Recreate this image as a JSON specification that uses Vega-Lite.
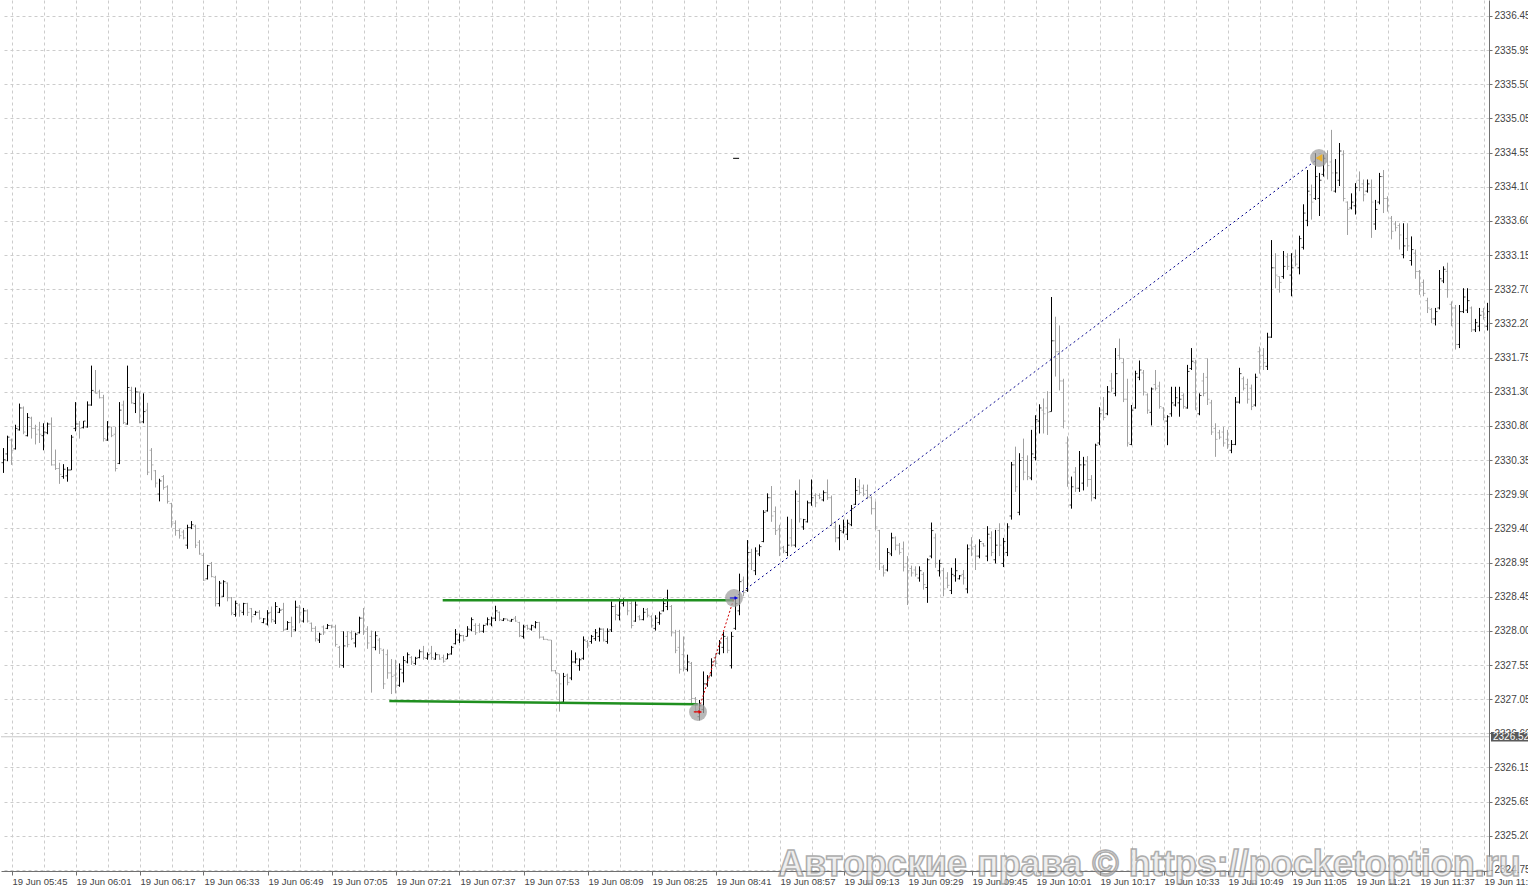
{
"$schema":"https://vega.github.io/schema/vega-lite/v6.json",
"width":1488,"height":871,"padding":0,"autosize":{"type":"pad"},"background":"white",
"config":{"view":{"stroke":null},"font":"Liberation Sans",
 "axis":{"labelOverlap":false,"labelFlush":false,"labelSeparation":0,"labelFont":"Liberation Sans","labelColor":"#444444","domainColor":"#707070","tickColor":"#707070","gridColor":"#cccccc","gridDash":[3,3],"title":null,"tickCount":200}},
"datasets":{
"bars":[
{"m":343,"o":2330.33,"h":2330.53,"l":2330.19,"c":2330.37},
{"m":344,"o":2330.45,"h":2330.70,"l":2330.35,"c":2330.68},
{"m":345,"o":2330.64,"h":2330.66,"l":2330.30,"c":2330.50},
{"m":346,"o":2330.52,"h":2330.85,"l":2330.51,"c":2330.80},
{"m":347,"o":2330.78,"h":2331.14,"l":2330.77,"c":2331.08},
{"m":348,"o":2331.08,"h":2331.10,"l":2330.72,"c":2330.75},
{"m":349,"o":2330.70,"h":2331.01,"l":2330.69,"c":2330.95},
{"m":350,"o":2330.94,"h":2330.96,"l":2330.66,"c":2330.80},
{"m":351,"o":2330.80,"h":2330.85,"l":2330.58,"c":2330.72},
{"m":352,"o":2330.78,"h":2330.89,"l":2330.60,"c":2330.72},
{"m":353,"o":2330.70,"h":2330.87,"l":2330.50,"c":2330.75},
{"m":354,"o":2330.74,"h":2330.88,"l":2330.72,"c":2330.86},
{"m":355,"o":2330.86,"h":2330.95,"l":2330.29,"c":2330.30},
{"m":356,"o":2330.30,"h":2330.51,"l":2330.23,"c":2330.25},
{"m":357,"o":2330.25,"h":2330.33,"l":2330.04,"c":2330.17},
{"m":358,"o":2330.14,"h":2330.31,"l":2330.11,"c":2330.24},
{"m":359,"o":2330.15,"h":2330.27,"l":2330.07,"c":2330.23},
{"m":360,"o":2330.23,"h":2330.71,"l":2330.23,"c":2330.68},
{"m":361,"o":2330.80,"h":2331.16,"l":2330.76,"c":2330.86},
{"m":362,"o":2330.86,"h":2330.90,"l":2330.66,"c":2330.80},
{"m":363,"o":2330.81,"h":2330.90,"l":2330.80,"c":2330.90},
{"m":364,"o":2330.82,"h":2331.17,"l":2330.81,"c":2331.12},
{"m":365,"o":2331.12,"h":2331.66,"l":2331.11,"c":2331.32},
{"m":366,"o":2331.30,"h":2331.60,"l":2331.28,"c":2331.28},
{"m":367,"o":2331.30,"h":2331.33,"l":2331.21,"c":2331.22},
{"m":368,"o":2331.22,"h":2331.26,"l":2330.62,"c":2330.66},
{"m":369,"o":2330.64,"h":2330.90,"l":2330.63,"c":2330.82},
{"m":370,"o":2330.82,"h":2330.82,"l":2330.68,"c":2330.70},
{"m":371,"o":2330.72,"h":2330.82,"l":2330.21,"c":2330.25},
{"m":372,"o":2330.32,"h":2331.16,"l":2330.31,"c":2331.05},
{"m":373,"o":2331.12,"h":2331.18,"l":2330.86,"c":2330.88},
{"m":374,"o":2330.86,"h":2331.66,"l":2330.85,"c":2331.36},
{"m":375,"o":2331.32,"h":2331.37,"l":2331.14,"c":2331.15},
{"m":376,"o":2331.14,"h":2331.36,"l":2331.01,"c":2331.30},
{"m":377,"o":2331.30,"h":2331.30,"l":2330.87,"c":2330.88},
{"m":378,"o":2330.89,"h":2331.28,"l":2330.87,"c":2331.03},
{"m":379,"o":2331.05,"h":2331.15,"l":2330.16,"c":2330.20},
{"m":380,"o":2330.50,"h":2330.53,"l":2330.09,"c":2330.30},
{"m":381,"o":2330.22,"h":2330.23,"l":2329.99,"c":2330.05},
{"m":382,"o":2329.90,"h":2330.11,"l":2329.80,"c":2330.08},
{"m":383,"o":2330.14,"h":2330.16,"l":2329.96,"c":2329.99},
{"m":384,"o":2330.00,"h":2330.02,"l":2329.77,"c":2329.80},
{"m":385,"o":2329.77,"h":2329.78,"l":2329.44,"c":2329.52},
{"m":386,"o":2329.50,"h":2329.54,"l":2329.33,"c":2329.40},
{"m":387,"o":2329.40,"h":2329.42,"l":2329.29,"c":2329.33},
{"m":388,"o":2329.38,"h":2329.41,"l":2329.28,"c":2329.30},
{"m":389,"o":2329.20,"h":2329.48,"l":2329.15,"c":2329.44},
{"m":390,"o":2329.44,"h":2329.53,"l":2329.42,"c":2329.48},
{"m":391,"o":2329.46,"h":2329.48,"l":2329.16,"c":2329.20},
{"m":392,"o":2329.24,"h":2329.27,"l":2329.07,"c":2329.08},
{"m":393,"o":2329.06,"h":2329.09,"l":2328.71,"c":2328.72},
{"m":394,"o":2328.74,"h":2328.93,"l":2328.73,"c":2328.92},
{"m":395,"o":2328.95,"h":2328.97,"l":2328.76,"c":2328.77},
{"m":396,"o":2328.76,"h":2328.78,"l":2328.36,"c":2328.40},
{"m":397,"o":2328.40,"h":2328.71,"l":2328.36,"c":2328.68},
{"m":398,"o":2328.50,"h":2328.72,"l":2328.49,"c":2328.70},
{"m":399,"o":2328.68,"h":2328.69,"l":2328.43,"c":2328.48},
{"m":400,"o":2328.48,"h":2328.49,"l":2328.24,"c":2328.27},
{"m":401,"o":2328.25,"h":2328.44,"l":2328.22,"c":2328.40},
{"m":402,"o":2328.38,"h":2328.40,"l":2328.22,"c":2328.30},
{"m":403,"o":2328.28,"h":2328.41,"l":2328.24,"c":2328.40},
{"m":404,"o":2328.40,"h":2328.41,"l":2328.23,"c":2328.28},
{"m":405,"o":2328.33,"h":2328.34,"l":2328.14,"c":2328.22},
{"m":406,"o":2328.25,"h":2328.30,"l":2328.24,"c":2328.28},
{"m":407,"o":2328.28,"h":2328.31,"l":2328.18,"c":2328.20},
{"m":408,"o":2328.14,"h":2328.20,"l":2328.13,"c":2328.19},
{"m":409,"o":2328.12,"h":2328.31,"l":2328.10,"c":2328.27},
{"m":410,"o":2328.28,"h":2328.36,"l":2328.14,"c":2328.18},
{"m":411,"o":2328.16,"h":2328.42,"l":2328.12,"c":2328.36},
{"m":412,"o":2328.28,"h":2328.34,"l":2328.27,"c":2328.31},
{"m":413,"o":2328.32,"h":2328.41,"l":2328.02,"c":2328.04},
{"m":414,"o":2328.05,"h":2328.16,"l":2328.04,"c":2328.14},
{"m":415,"o":2328.14,"h":2328.22,"l":2327.94,"c":2328.08},
{"m":416,"o":2328.04,"h":2328.44,"l":2328.02,"c":2328.35},
{"m":417,"o":2328.35,"h":2328.38,"l":2328.13,"c":2328.28},
{"m":418,"o":2328.16,"h":2328.34,"l":2328.14,"c":2328.30},
{"m":419,"o":2328.30,"h":2328.32,"l":2328.14,"c":2328.16},
{"m":420,"o":2328.13,"h":2328.14,"l":2328.02,"c":2328.06},
{"m":421,"o":2328.06,"h":2328.09,"l":2327.88,"c":2327.92},
{"m":422,"o":2327.90,"h":2328.00,"l":2327.86,"c":2327.98},
{"m":423,"o":2328.08,"h":2328.10,"l":2327.97,"c":2328.00},
{"m":424,"o":2328.06,"h":2328.12,"l":2328.05,"c":2328.10},
{"m":425,"o":2328.10,"h":2328.11,"l":2328.06,"c":2328.08},
{"m":426,"o":2328.08,"h":2328.11,"l":2327.81,"c":2327.84},
{"m":427,"o":2327.80,"h":2327.82,"l":2327.52,"c":2327.56},
{"m":428,"o":2327.55,"h":2328.02,"l":2327.52,"c":2327.82},
{"m":429,"o":2327.95,"h":2328.02,"l":2327.80,"c":2327.84},
{"m":430,"o":2328.00,"h":2328.03,"l":2327.90,"c":2327.92},
{"m":431,"o":2327.86,"h":2328.00,"l":2327.80,"c":2327.98},
{"m":432,"o":2328.00,"h":2328.22,"l":2327.99,"c":2328.20},
{"m":433,"o":2328.20,"h":2328.34,"l":2327.97,"c":2328.02},
{"m":434,"o":2328.05,"h":2328.09,"l":2327.78,"c":2327.86},
{"m":435,"o":2327.95,"h":2328.03,"l":2327.18,"c":2327.80},
{"m":436,"o":2327.80,"h":2328.02,"l":2327.76,"c":2327.96},
{"m":437,"o":2327.90,"h":2327.93,"l":2327.71,"c":2327.78},
{"m":438,"o":2327.76,"h":2327.78,"l":2327.23,"c":2327.30},
{"m":439,"o":2327.70,"h":2327.77,"l":2327.37,"c":2327.45},
{"m":440,"o":2327.45,"h":2327.64,"l":2327.16,"c":2327.40},
{"m":441,"o":2327.42,"h":2327.63,"l":2327.17,"c":2327.38},
{"m":442,"o":2327.28,"h":2327.58,"l":2327.26,"c":2327.50},
{"m":443,"o":2327.45,"h":2327.68,"l":2327.32,"c":2327.62},
{"m":444,"o":2327.60,"h":2327.73,"l":2327.58,"c":2327.70},
{"m":445,"o":2327.66,"h":2327.68,"l":2327.56,"c":2327.60},
{"m":446,"o":2327.58,"h":2327.67,"l":2327.56,"c":2327.65},
{"m":447,"o":2327.66,"h":2327.77,"l":2327.65,"c":2327.74},
{"m":448,"o":2327.74,"h":2327.82,"l":2327.63,"c":2327.66},
{"m":449,"o":2327.65,"h":2327.73,"l":2327.63,"c":2327.70},
{"m":450,"o":2327.72,"h":2327.82,"l":2327.63,"c":2327.66},
{"m":451,"o":2327.64,"h":2327.73,"l":2327.63,"c":2327.70},
{"m":452,"o":2327.70,"h":2327.70,"l":2327.63,"c":2327.64},
{"m":453,"o":2327.66,"h":2327.70,"l":2327.59,"c":2327.61},
{"m":454,"o":2327.64,"h":2327.72,"l":2327.64,"c":2327.70},
{"m":455,"o":2327.71,"h":2327.82,"l":2327.70,"c":2327.80},
{"m":456,"o":2327.85,"h":2328.05,"l":2327.84,"c":2327.98},
{"m":457,"o":2327.90,"h":2327.99,"l":2327.86,"c":2327.96},
{"m":458,"o":2327.96,"h":2327.97,"l":2327.88,"c":2327.90},
{"m":459,"o":2327.95,"h":2328.09,"l":2327.95,"c":2328.05},
{"m":460,"o":2328.04,"h":2328.21,"l":2328.02,"c":2328.18},
{"m":461,"o":2328.10,"h":2328.13,"l":2327.97,"c":2328.00},
{"m":462,"o":2328.10,"h":2328.13,"l":2328.00,"c":2328.02},
{"m":463,"o":2328.02,"h":2328.11,"l":2328.00,"c":2328.10},
{"m":464,"o":2328.12,"h":2328.21,"l":2328.10,"c":2328.18},
{"m":465,"o":2328.12,"h":2328.22,"l":2328.09,"c":2328.20},
{"m":466,"o":2328.20,"h":2328.37,"l":2328.16,"c":2328.30},
{"m":467,"o":2328.28,"h":2328.29,"l":2328.16,"c":2328.18},
{"m":468,"o":2328.17,"h":2328.20,"l":2328.16,"c":2328.19},
{"m":469,"o":2328.19,"h":2328.19,"l":2328.16,"c":2328.17},
{"m":470,"o":2328.16,"h":2328.19,"l":2328.15,"c":2328.18},
{"m":471,"o":2328.20,"h":2328.23,"l":2328.15,"c":2328.16},
{"m":472,"o":2328.14,"h":2328.15,"l":2327.94,"c":2327.96},
{"m":473,"o":2327.95,"h":2328.11,"l":2327.92,"c":2328.08},
{"m":474,"o":2328.10,"h":2328.11,"l":2328.04,"c":2328.06},
{"m":475,"o":2328.05,"h":2328.11,"l":2328.03,"c":2328.10},
{"m":476,"o":2328.08,"h":2328.16,"l":2328.06,"c":2328.14},
{"m":477,"o":2328.14,"h":2328.15,"l":2327.92,"c":2327.94},
{"m":478,"o":2327.94,"h":2327.95,"l":2327.90,"c":2327.91},
{"m":479,"o":2327.91,"h":2327.91,"l":2327.90,"c":2327.90},
{"m":480,"o":2327.90,"h":2327.90,"l":2327.47,"c":2327.48},
{"m":481,"o":2327.48,"h":2327.49,"l":2327.44,"c":2327.45},
{"m":482,"o":2327.44,"h":2327.44,"l":2326.92,"c":2327.30},
{"m":483,"o":2327.05,"h":2327.45,"l":2327.03,"c":2327.40},
{"m":484,"o":2327.42,"h":2327.44,"l":2327.28,"c":2327.32},
{"m":485,"o":2327.38,"h":2327.76,"l":2327.35,"c":2327.60},
{"m":486,"o":2327.60,"h":2327.73,"l":2327.58,"c":2327.64},
{"m":487,"o":2327.55,"h":2327.65,"l":2327.48,"c":2327.63},
{"m":488,"o":2327.65,"h":2327.95,"l":2327.63,"c":2327.90},
{"m":489,"o":2327.88,"h":2327.90,"l":2327.79,"c":2327.82},
{"m":490,"o":2327.88,"h":2327.97,"l":2327.85,"c":2327.95},
{"m":491,"o":2327.92,"h":2328.05,"l":2327.89,"c":2328.00},
{"m":492,"o":2327.95,"h":2328.07,"l":2327.88,"c":2328.05},
{"m":493,"o":2328.05,"h":2328.06,"l":2327.88,"c":2327.90},
{"m":494,"o":2327.88,"h":2328.06,"l":2327.85,"c":2328.02},
{"m":495,"o":2328.04,"h":2328.43,"l":2328.01,"c":2328.36},
{"m":496,"o":2328.36,"h":2328.39,"l":2328.17,"c":2328.25},
{"m":497,"o":2328.24,"h":2328.47,"l":2328.17,"c":2328.43},
{"m":498,"o":2328.40,"h":2328.47,"l":2328.36,"c":2328.45},
{"m":499,"o":2328.44,"h":2328.45,"l":2328.24,"c":2328.30},
{"m":500,"o":2328.40,"h":2328.43,"l":2328.06,"c":2328.10},
{"m":501,"o":2328.16,"h":2328.43,"l":2328.15,"c":2328.38},
{"m":502,"o":2328.22,"h":2328.24,"l":2328.17,"c":2328.18},
{"m":503,"o":2328.18,"h":2328.34,"l":2328.17,"c":2328.28},
{"m":504,"o":2328.32,"h":2328.34,"l":2328.21,"c":2328.24},
{"m":505,"o":2328.22,"h":2328.24,"l":2328.07,"c":2328.10},
{"m":506,"o":2328.06,"h":2328.24,"l":2328.03,"c":2328.20},
{"m":507,"o":2328.14,"h":2328.29,"l":2328.11,"c":2328.26},
{"m":508,"o":2328.30,"h":2328.47,"l":2328.29,"c":2328.40},
{"m":509,"o":2328.36,"h":2328.59,"l":2328.31,"c":2328.45},
{"m":510,"o":2328.36,"h":2328.38,"l":2327.95,"c":2328.00},
{"m":511,"o":2328.00,"h":2328.04,"l":2327.72,"c":2327.76},
{"m":512,"o":2327.80,"h":2328.04,"l":2327.44,"c":2327.50},
{"m":513,"o":2327.70,"h":2327.95,"l":2327.47,"c":2327.52},
{"m":514,"o":2327.50,"h":2327.70,"l":2327.47,"c":2327.60},
{"m":515,"o":2327.58,"h":2327.60,"l":2327.03,"c":2327.10},
{"m":516,"o":2327.10,"h":2327.12,"l":2326.90,"c":2326.94},
{"m":517,"o":2326.85,"h":2327.08,"l":2326.80,"c":2327.00},
{"m":518,"o":2326.95,"h":2327.47,"l":2326.90,"c":2327.30},
{"m":519,"o":2327.30,"h":2327.42,"l":2327.26,"c":2327.38},
{"m":520,"o":2327.42,"h":2327.65,"l":2327.40,"c":2327.60},
{"m":521,"o":2327.66,"h":2327.72,"l":2327.53,"c":2327.58},
{"m":522,"o":2327.72,"h":2327.90,"l":2327.70,"c":2327.86},
{"m":523,"o":2327.80,"h":2328.01,"l":2327.72,"c":2327.95},
{"m":524,"o":2327.92,"h":2327.95,"l":2327.72,"c":2327.76},
{"m":525,"o":2327.55,"h":2328.01,"l":2327.51,"c":2327.95},
{"m":526,"o":2328.06,"h":2328.49,"l":2328.04,"c":2328.40},
{"m":527,"o":2328.30,"h":2328.81,"l":2328.24,"c":2328.70},
{"m":528,"o":2328.72,"h":2328.77,"l":2328.50,"c":2328.55},
{"m":529,"o":2328.58,"h":2329.27,"l":2328.56,"c":2329.10},
{"m":530,"o":2329.10,"h":2329.15,"l":2328.86,"c":2328.95},
{"m":531,"o":2328.85,"h":2329.17,"l":2328.79,"c":2329.12},
{"m":532,"o":2329.08,"h":2329.21,"l":2329.05,"c":2329.18},
{"m":533,"o":2329.25,"h":2329.68,"l":2329.24,"c":2329.65},
{"m":534,"o":2329.67,"h":2329.91,"l":2329.66,"c":2329.85},
{"m":535,"o":2329.85,"h":2330.01,"l":2329.52,"c":2329.60},
{"m":536,"o":2329.66,"h":2329.73,"l":2329.34,"c":2329.40},
{"m":537,"o":2329.42,"h":2329.48,"l":2329.05,"c":2329.15},
{"m":538,"o":2329.17,"h":2329.19,"l":2329.09,"c":2329.12},
{"m":539,"o":2329.10,"h":2329.59,"l":2329.05,"c":2329.20},
{"m":540,"o":2329.30,"h":2329.56,"l":2329.18,"c":2329.20},
{"m":541,"o":2329.20,"h":2329.95,"l":2329.17,"c":2329.90},
{"m":542,"o":2329.80,"h":2330.10,"l":2329.51,"c":2329.56},
{"m":543,"o":2329.45,"h":2329.56,"l":2329.41,"c":2329.55},
{"m":544,"o":2329.52,"h":2329.81,"l":2329.51,"c":2329.78},
{"m":545,"o":2329.78,"h":2330.10,"l":2329.74,"c":2329.85},
{"m":546,"o":2329.88,"h":2329.91,"l":2329.72,"c":2329.78},
{"m":547,"o":2329.88,"h":2329.91,"l":2329.83,"c":2329.85},
{"m":548,"o":2329.82,"h":2329.95,"l":2329.80,"c":2329.92},
{"m":549,"o":2329.92,"h":2330.10,"l":2329.82,"c":2329.85},
{"m":550,"o":2329.85,"h":2329.88,"l":2329.46,"c":2329.50},
{"m":551,"o":2329.45,"h":2329.52,"l":2329.24,"c":2329.30},
{"m":552,"o":2329.30,"h":2329.48,"l":2329.13,"c":2329.40},
{"m":553,"o":2329.38,"h":2329.55,"l":2329.36,"c":2329.45},
{"m":554,"o":2329.35,"h":2329.55,"l":2329.27,"c":2329.50},
{"m":555,"o":2329.48,"h":2329.75,"l":2329.46,"c":2329.70},
{"m":556,"o":2329.76,"h":2330.12,"l":2329.75,"c":2329.95},
{"m":557,"o":2330.00,"h":2330.10,"l":2329.89,"c":2329.92},
{"m":558,"o":2329.98,"h":2330.03,"l":2329.87,"c":2329.90},
{"m":559,"o":2329.95,"h":2330.03,"l":2329.83,"c":2329.86},
{"m":560,"o":2329.85,"h":2329.87,"l":2329.62,"c":2329.70},
{"m":561,"o":2329.70,"h":2329.80,"l":2329.41,"c":2329.45},
{"m":562,"o":2329.40,"h":2329.41,"l":2328.86,"c":2328.95},
{"m":563,"o":2328.90,"h":2328.93,"l":2328.77,"c":2328.82},
{"m":564,"o":2328.86,"h":2329.16,"l":2328.84,"c":2329.10},
{"m":565,"o":2329.08,"h":2329.37,"l":2329.05,"c":2329.30},
{"m":566,"o":2329.30,"h":2329.32,"l":2329.13,"c":2329.20},
{"m":567,"o":2329.20,"h":2329.23,"l":2329.07,"c":2329.10},
{"m":568,"o":2329.15,"h":2329.25,"l":2328.84,"c":2328.90},
{"m":569,"o":2328.95,"h":2329.05,"l":2328.38,"c":2328.85},
{"m":570,"o":2328.88,"h":2328.92,"l":2328.77,"c":2328.82},
{"m":571,"o":2328.86,"h":2328.91,"l":2328.77,"c":2328.80},
{"m":572,"o":2328.75,"h":2328.91,"l":2328.70,"c":2328.85},
{"m":573,"o":2328.80,"h":2328.83,"l":2328.59,"c":2328.66},
{"m":574,"o":2328.62,"h":2329.02,"l":2328.41,"c":2329.00},
{"m":575,"o":2329.05,"h":2329.51,"l":2329.02,"c":2329.40},
{"m":576,"o":2329.30,"h":2329.36,"l":2328.89,"c":2328.95},
{"m":577,"o":2328.85,"h":2329.00,"l":2328.77,"c":2328.95},
{"m":578,"o":2328.85,"h":2328.89,"l":2328.50,"c":2328.60},
{"m":579,"o":2328.75,"h":2328.83,"l":2328.61,"c":2328.65},
{"m":580,"o":2328.58,"h":2328.89,"l":2328.53,"c":2328.80},
{"m":581,"o":2328.78,"h":2329.02,"l":2328.70,"c":2328.85},
{"m":582,"o":2328.74,"h":2328.79,"l":2328.73,"c":2328.78},
{"m":583,"o":2328.80,"h":2328.86,"l":2328.66,"c":2328.75},
{"m":584,"o":2328.60,"h":2329.21,"l":2328.54,"c":2329.15},
{"m":585,"o":2329.20,"h":2329.31,"l":2329.05,"c":2329.15},
{"m":586,"o":2329.18,"h":2329.21,"l":2328.86,"c":2329.05},
{"m":587,"o":2329.05,"h":2329.28,"l":2329.02,"c":2329.25},
{"m":588,"o":2329.22,"h":2329.23,"l":2329.18,"c":2329.19},
{"m":589,"o":2329.05,"h":2329.46,"l":2328.98,"c":2329.35},
{"m":590,"o":2329.30,"h":2329.39,"l":2329.05,"c":2329.10},
{"m":591,"o":2329.00,"h":2329.41,"l":2328.95,"c":2329.20},
{"m":592,"o":2329.40,"h":2329.50,"l":2329.05,"c":2329.20},
{"m":593,"o":2328.95,"h":2329.30,"l":2328.90,"c":2329.25},
{"m":594,"o":2329.10,"h":2329.50,"l":2329.05,"c":2329.45},
{"m":595,"o":2329.60,"h":2330.34,"l":2329.55,"c":2330.30},
{"m":596,"o":2330.30,"h":2330.55,"l":2329.93,"c":2330.00},
{"m":597,"o":2329.65,"h":2330.46,"l":2329.61,"c":2330.36},
{"m":598,"o":2330.40,"h":2330.66,"l":2330.09,"c":2330.20},
{"m":599,"o":2330.36,"h":2330.43,"l":2330.09,"c":2330.14},
{"m":600,"o":2330.12,"h":2330.78,"l":2330.09,"c":2330.45},
{"m":601,"o":2330.40,"h":2330.98,"l":2330.36,"c":2330.92},
{"m":602,"o":2330.90,"h":2331.13,"l":2330.73,"c":2331.08},
{"m":603,"o":2331.05,"h":2331.21,"l":2330.73,"c":2331.00},
{"m":604,"o":2331.08,"h":2331.31,"l":2330.71,"c":2331.02},
{"m":605,"o":2331.03,"h":2332.60,"l":2331.03,"c":2332.00},
{"m":606,"o":2332.00,"h":2332.33,"l":2331.51,"c":2331.85},
{"m":607,"o":2331.85,"h":2332.21,"l":2331.32,"c":2331.45},
{"m":608,"o":2331.45,"h":2331.48,"l":2330.80,"c":2330.90},
{"m":609,"o":2330.60,"h":2330.69,"l":2330.00,"c":2330.05},
{"m":610,"o":2329.75,"h":2330.14,"l":2329.70,"c":2330.00},
{"m":611,"o":2330.20,"h":2330.27,"l":2329.93,"c":2329.98},
{"m":612,"o":2329.98,"h":2330.49,"l":2329.93,"c":2330.30},
{"m":613,"o":2330.05,"h":2330.41,"l":2329.95,"c":2330.30},
{"m":614,"o":2330.35,"h":2330.42,"l":2330.00,"c":2330.10},
{"m":615,"o":2330.10,"h":2330.16,"l":2329.80,"c":2329.90},
{"m":616,"o":2329.85,"h":2330.59,"l":2329.83,"c":2330.57},
{"m":617,"o":2330.60,"h":2331.09,"l":2330.57,"c":2331.00},
{"m":618,"o":2331.05,"h":2331.23,"l":2330.91,"c":2330.95},
{"m":619,"o":2331.00,"h":2331.38,"l":2330.98,"c":2331.30},
{"m":620,"o":2331.45,"h":2331.56,"l":2331.30,"c":2331.35},
{"m":621,"o":2331.28,"h":2331.90,"l":2331.24,"c":2331.55},
{"m":622,"o":2331.80,"h":2332.03,"l":2331.74,"c":2331.76},
{"m":623,"o":2331.70,"h":2331.76,"l":2331.16,"c":2331.20},
{"m":624,"o":2331.20,"h":2331.48,"l":2330.55,"c":2330.60},
{"m":625,"o":2330.58,"h":2331.12,"l":2330.57,"c":2331.05},
{"m":626,"o":2331.08,"h":2331.59,"l":2331.07,"c":2331.55},
{"m":627,"o":2331.50,"h":2331.73,"l":2331.46,"c":2331.60},
{"m":628,"o":2331.56,"h":2331.60,"l":2331.25,"c":2331.30},
{"m":629,"o":2331.26,"h":2331.28,"l":2331.00,"c":2331.05},
{"m":630,"o":2331.02,"h":2331.36,"l":2330.84,"c":2331.34},
{"m":631,"o":2331.40,"h":2331.60,"l":2331.32,"c":2331.35},
{"m":632,"o":2331.38,"h":2331.44,"l":2331.07,"c":2331.10},
{"m":633,"o":2331.08,"h":2331.09,"l":2330.91,"c":2330.95},
{"m":634,"o":2330.90,"h":2330.98,"l":2330.57,"c":2330.96},
{"m":635,"o":2331.00,"h":2331.37,"l":2330.96,"c":2331.15},
{"m":636,"o":2331.12,"h":2331.37,"l":2331.10,"c":2331.22},
{"m":637,"o":2331.15,"h":2331.37,"l":2330.96,"c":2331.20},
{"m":638,"o":2331.25,"h":2331.28,"l":2331.07,"c":2331.10},
{"m":639,"o":2331.08,"h":2331.67,"l":2331.07,"c":2331.58},
{"m":640,"o":2331.62,"h":2331.90,"l":2331.60,"c":2331.72},
{"m":641,"o":2331.70,"h":2331.74,"l":2331.05,"c":2331.08},
{"m":642,"o":2331.00,"h":2331.28,"l":2330.98,"c":2331.25},
{"m":643,"o":2331.45,"h":2331.56,"l":2331.24,"c":2331.28},
{"m":644,"o":2331.50,"h":2331.76,"l":2331.12,"c":2331.20},
{"m":645,"o":2331.15,"h":2331.19,"l":2330.71,"c":2330.75},
{"m":646,"o":2330.80,"h":2330.87,"l":2330.41,"c":2330.65},
{"m":647,"o":2330.74,"h":2330.78,"l":2330.65,"c":2330.68},
{"m":648,"o":2330.75,"h":2330.82,"l":2330.55,"c":2330.60},
{"m":649,"o":2330.65,"h":2330.78,"l":2330.52,"c":2330.58},
{"m":650,"o":2330.50,"h":2330.64,"l":2330.46,"c":2330.58},
{"m":651,"o":2330.58,"h":2331.23,"l":2330.57,"c":2331.16},
{"m":652,"o":2331.16,"h":2331.63,"l":2331.14,"c":2331.55},
{"m":653,"o":2331.48,"h":2331.51,"l":2331.32,"c":2331.35},
{"m":654,"o":2331.40,"h":2331.48,"l":2331.14,"c":2331.20},
{"m":655,"o":2331.35,"h":2331.40,"l":2331.05,"c":2331.10},
{"m":656,"o":2331.12,"h":2331.55,"l":2331.10,"c":2331.50},
{"m":657,"o":2331.85,"h":2331.92,"l":2331.55,"c":2331.65},
{"m":658,"o":2331.80,"h":2331.90,"l":2331.60,"c":2331.70},
{"m":659,"o":2331.65,"h":2332.11,"l":2331.60,"c":2332.05},
{"m":660,"o":2332.05,"h":2333.38,"l":2332.04,"c":2333.00},
{"m":661,"o":2333.00,"h":2333.20,"l":2332.72,"c":2332.90},
{"m":662,"o":2332.88,"h":2332.88,"l":2332.66,"c":2332.80},
{"m":663,"o":2332.88,"h":2333.23,"l":2332.85,"c":2333.02},
{"m":664,"o":2333.15,"h":2333.20,"l":2332.97,"c":2333.02},
{"m":665,"o":2332.90,"h":2333.20,"l":2332.61,"c":2333.00},
{"m":666,"o":2333.15,"h":2333.25,"l":2333.02,"c":2333.05},
{"m":667,"o":2333.00,"h":2333.44,"l":2332.91,"c":2333.40},
{"m":668,"o":2333.28,"h":2333.87,"l":2333.25,"c":2333.75},
{"m":669,"o":2333.65,"h":2334.34,"l":2333.57,"c":2334.05},
{"m":670,"o":2334.00,"h":2334.14,"l":2333.66,"c":2333.90},
{"m":671,"o":2333.95,"h":2334.57,"l":2333.93,"c":2334.25},
{"m":672,"o":2333.95,"h":2334.30,"l":2333.71,"c":2334.20},
{"m":673,"o":2334.28,"h":2334.55,"l":2334.25,"c":2334.50},
{"m":674,"o":2334.45,"h":2334.61,"l":2334.21,"c":2334.40},
{"m":675,"o":2334.45,"h":2334.89,"l":2334.05,"c":2334.30},
{"m":676,"o":2334.05,"h":2334.49,"l":2334.03,"c":2334.30},
{"m":677,"o":2334.20,"h":2334.71,"l":2334.12,"c":2334.60},
{"m":678,"o":2334.55,"h":2334.61,"l":2333.91,"c":2333.95},
{"m":679,"o":2333.90,"h":2333.91,"l":2333.45,"c":2333.80},
{"m":680,"o":2333.82,"h":2334.02,"l":2333.80,"c":2333.90},
{"m":681,"o":2333.85,"h":2334.16,"l":2333.73,"c":2334.10},
{"m":682,"o":2334.20,"h":2334.32,"l":2334.05,"c":2334.10},
{"m":683,"o":2334.15,"h":2334.21,"l":2333.91,"c":2334.00},
{"m":684,"o":2334.05,"h":2334.21,"l":2334.03,"c":2334.15},
{"m":685,"o":2334.10,"h":2334.21,"l":2333.41,"c":2333.90},
{"m":686,"o":2333.60,"h":2333.93,"l":2333.52,"c":2333.80},
{"m":687,"o":2333.90,"h":2334.30,"l":2333.87,"c":2334.25},
{"m":688,"o":2334.25,"h":2334.34,"l":2333.75,"c":2333.95},
{"m":689,"o":2333.95,"h":2333.98,"l":2333.77,"c":2333.85},
{"m":690,"o":2333.68,"h":2333.71,"l":2333.39,"c":2333.50},
{"m":691,"o":2333.60,"h":2333.64,"l":2333.50,"c":2333.55},
{"m":692,"o":2333.58,"h":2333.61,"l":2333.25,"c":2333.45},
{"m":693,"o":2333.18,"h":2333.61,"l":2333.13,"c":2333.30},
{"m":694,"o":2333.40,"h":2333.61,"l":2333.23,"c":2333.30},
{"m":695,"o":2333.10,"h":2333.43,"l":2333.03,"c":2333.25},
{"m":696,"o":2333.20,"h":2333.25,"l":2332.85,"c":2332.95},
{"m":697,"o":2332.95,"h":2332.97,"l":2332.63,"c":2332.75},
{"m":698,"o":2332.80,"h":2332.84,"l":2332.61,"c":2332.65},
{"m":699,"o":2332.55,"h":2332.59,"l":2332.38,"c":2332.45},
{"m":700,"o":2332.43,"h":2332.45,"l":2332.24,"c":2332.30},
{"m":701,"o":2332.30,"h":2332.45,"l":2332.21,"c":2332.40},
{"m":702,"o":2332.45,"h":2332.97,"l":2332.43,"c":2332.85},
{"m":703,"o":2332.82,"h":2333.02,"l":2332.79,"c":2332.98},
{"m":704,"o":2332.95,"h":2333.07,"l":2332.59,"c":2332.70},
{"m":705,"o":2332.50,"h":2332.54,"l":2332.20,"c":2332.45},
{"m":706,"o":2332.45,"h":2332.49,"l":2331.88,"c":2331.95},
{"m":707,"o":2331.95,"h":2332.49,"l":2331.90,"c":2332.40},
{"m":708,"o":2332.40,"h":2332.72,"l":2332.38,"c":2332.60},
{"m":709,"o":2332.42,"h":2332.72,"l":2332.38,"c":2332.55},
{"m":710,"o":2332.45,"h":2332.47,"l":2332.12,"c":2332.15},
{"m":711,"o":2332.15,"h":2332.30,"l":2332.12,"c":2332.25},
{"m":712,"o":2332.20,"h":2332.45,"l":2332.13,"c":2332.35},
{"m":713,"o":2332.40,"h":2332.45,"l":2332.29,"c":2332.32},
{"m":714,"o":2332.20,"h":2332.52,"l":2332.14,"c":2332.40}
],
"levels":[
{"level":"resistance","m":452.8,"p":2328.445},
{"level":"resistance","m":525.6,"p":2328.445},
{"level":"support","m":439.45,"p":2327.065},
{"level":"support","m":516.6,"p":2327.02}
],
"trades":[
{"leg":"entry","m":516.625,"p":2326.915},
{"leg":"entry","m":525.625,"p":2328.476},
{"leg":"exit","m":525.625,"p":2328.476},
{"leg":"exit","m":671.875,"p":2334.505}
],
"signals":[
{"event":"low","m":516.625,"p":2326.915},
{"event":"entry","m":525.625,"p":2328.476},
{"event":"exit","m":671.875,"p":2334.505}
]
},
"layer":[
{"data":{"name":"bars"},
 "mark":{"type":"rule","strokeWidth":1},
 "encoding":{
  "x":{"field":"m","type":"quantitative","title":null,"scale":{"domain":[342.375,714.375],"nice":false,"zero":false},
   "axis":{"orient":"bottom","title":null,"tickCount":200,
    "values":[345,353,361,369,377,385,393,401,409,417,425,433,441,449,457,465,473,481,489,497,505,513,521,529,537,545,553,561,569,577,585,593,601,609,617,625,633,641,649,657,665,673,681,689,697,705,713],
    "grid":true,"gridColor":"#cccccc","gridDash":[3,3],"gridWidth":1,
    "domainColor":"#707070","tickColor":"#707070","tickSize":4,
    "tickOpacity":{"condition":{"test":"(datum.value - 345) % 16 != 0","value":0},"value":1},
    "labelExpr":"(datum.value - 345) % 16 == 0 ? '19 Jun ' + utcFormat(datum.value * 60000, '%H:%M') : ''",
    "labelAlign":"left","labelBaseline":"top","labelPadding":1,"labelOffset":0.5,
    "labelFont":"Liberation Sans","labelFontSize":9.5,"labelColor":"#444444","labelOverlap":false,"labelFlush":false}},
  "y":{"field":"l","type":"quantitative","title":null,"scale":{"domain":[2324.736,2336.669],"nice":false,"zero":false},
   "axis":{"orient":"right","title":null,"tickCount":200,
    "values":[2324.75,2325.218,2325.686,2326.154,2326.622,2327.09,2327.558,2328.026,2328.494,2328.962,2329.43,2329.898,2330.366,2330.834,2331.302,2331.77,2332.238,2332.706,2333.174,2333.642,2334.11,2334.578,2335.046,2335.514,2335.982,2336.45],
    "labelExpr":"['2324.75','2325.20','2325.65','2326.15','2326.60','2327.05','2327.55','2328.00','2328.45','2328.95','2329.40','2329.90','2330.35','2330.80','2331.30','2331.75','2332.20','2332.70','2333.15','2333.60','2334.10','2334.55','2335.05','2335.50','2335.95','2336.45'][round((datum.value - 2324.75) / 0.468)]",
    "grid":true,"gridColor":"#cccccc","gridDash":[3,3],"gridWidth":1,
    "domainColor":"#707070","tickColor":"#707070","tickSize":3,
    "labelAlign":"left","labelBaseline":"middle","labelPadding":2,
    "labelFont":"Liberation Sans","labelFontSize":10,"labelColor":"#444444","labelOverlap":false,"labelFlush":false}},
  "y2":{"field":"h"},
  "color":{"condition":{"test":"datum.c > datum.o","value":"#000000"},"value":"#a0a0a0"}}},
{"data":{"name":"bars"},
 "mark":{"type":"tick","orient":"horizontal","size":2,"thickness":1,"xOffset":-1},
 "encoding":{"x":{"field":"m","type":"quantitative","title":null},
  "y":{"field":"o","type":"quantitative","title":null},
  "color":{"condition":{"test":"datum.c > datum.o","value":"#000000"},"value":"#a0a0a0"}}},
{"data":{"name":"bars"},
 "mark":{"type":"tick","orient":"horizontal","size":2,"thickness":1,"xOffset":1},
 "encoding":{"x":{"field":"m","type":"quantitative","title":null},
  "y":{"field":"c","type":"quantitative","title":null},
  "color":{"condition":{"test":"datum.c > datum.o","value":"#000000"},"value":"#a0a0a0"}}},
{"data":{"values":[{"bid":2326.52}]},
 "mark":{"type":"rule","color":"#c8c8c8","strokeWidth":1},
 "encoding":{"y":{"datum":2326.575,"type":"quantitative","title":null}}},
{"data":{"name":"levels"},
 "mark":{"type":"line","color":"#1f8f1f","strokeWidth":2.5},
 "encoding":{"x":{"field":"m","type":"quantitative","title":null},
  "y":{"field":"p","type":"quantitative","title":null},
  "detail":{"field":"level","type":"nominal"}}},
{"data":{"name":"trades"},"transform":[{"filter":"datum.leg == 'entry'"}],
 "mark":{"type":"line","color":"#d00000","strokeWidth":1,"strokeDash":[2,2]},
 "encoding":{"x":{"field":"m","type":"quantitative","title":null},
  "y":{"field":"p","type":"quantitative","title":null}}},
{"data":{"name":"trades"},"transform":[{"filter":"datum.leg == 'exit'"}],
 "mark":{"type":"line","color":"#00008b","strokeWidth":1,"strokeDash":[2,3]},
 "encoding":{"x":{"field":"m","type":"quantitative","title":null},
  "y":{"field":"p","type":"quantitative","title":null}}},
{"data":{"name":"signals"},
 "mark":{"type":"point","shape":"circle","filled":true,"size":320,"color":"#a0a0a0","opacity":0.75},
 "encoding":{"x":{"field":"m","type":"quantitative","title":null},
  "y":{"field":"p","type":"quantitative","title":null}}},
{"data":{"name":"signals"},"transform":[{"filter":"datum.event != 'exit'"}],
 "mark":{"type":"point","shape":"arrow","filled":true,"size":70,"angle":90,"opacity":1},
 "encoding":{"x":{"field":"m","type":"quantitative","title":null},
  "y":{"field":"p","type":"quantitative","title":null},
  "color":{"condition":{"test":"datum.event == 'low'","value":"#e00000"},"value":"#0000e0"}}},
{"data":{"name":"signals"},"transform":[{"filter":"datum.event == 'exit'"}],
 "mark":{"type":"point","shape":"triangle-left","filled":true,"size":60,"color":"#e8b030","opacity":1},
 "encoding":{"x":{"field":"m","type":"quantitative","title":null},
  "y":{"field":"p","type":"quantitative","title":null}}},
{"data":{"values":[{"m":525.4,"m2":526.9,"p":2334.5}]},
 "mark":{"type":"rule","color":"#000000","strokeWidth":1},
 "encoding":{"x":{"field":"m","type":"quantitative","title":null},
  "x2":{"field":"m2"},
  "y":{"field":"p","type":"quantitative","title":null}}},
{"data":{"values":[{"note":"Авторские права © https://pocketoption.ru"}]},
 "mark":{"type":"text","align":"left","baseline":"alphabetic","font":"Liberation Sans","fontSize":36,"fontWeight":"bold","fill":"#e8e8e8","stroke":"#8c8c8c","strokeWidth":1.5,"opacity":0.7,"clip":false},
 "encoding":{"x":{"datum":536.6,"type":"quantitative","title":null},
  "y":{"datum":2324.67,"type":"quantitative","title":null},
  "text":{"field":"note","type":"nominal"}}},
{"data":{"values":[{"bid":2326.52}]},
 "mark":{"type":"rect","color":"#5a5a5a","clip":false},
 "encoding":{"x":{"datum":714.875,"type":"quantitative","title":null},
  "x2":{"datum":724.5},
  "y":{"datum":2326.64,"type":"quantitative","title":null},
  "y2":{"datum":2326.51}}},
{"data":{"values":[{"bid":2326.52}]},
 "mark":{"type":"text","color":"#ffffff","align":"left","baseline":"middle","dx":2,"font":"Liberation Sans","fontSize":10,"clip":false},
 "encoding":{"x":{"datum":714.875,"type":"quantitative","title":null},
  "y":{"datum":2326.575,"type":"quantitative","title":null},
  "text":{"field":"bid","type":"quantitative","format":".2f"}}}
]
}
